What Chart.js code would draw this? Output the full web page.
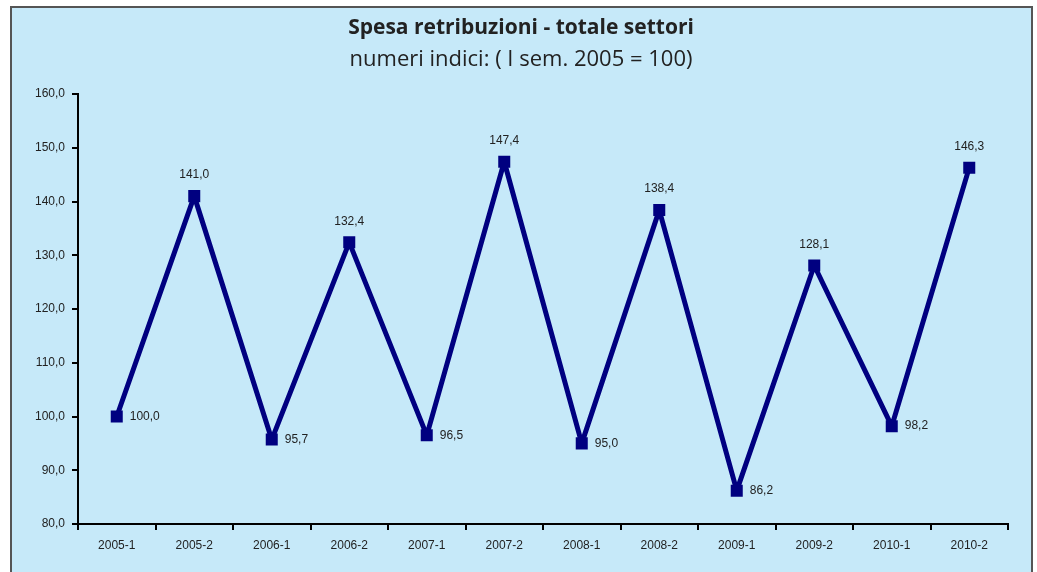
<!DOCTYPE html>
<html><head><meta charset="utf-8">
<script src="https://cdn.jsdelivr.net/npm/chart.js@4.4.0/dist/chart.umd.min.js"></script>
<style>
html,body{margin:0;padding:0;width:1037px;height:572px;overflow:hidden;background:#fff;}
#frame{position:absolute;left:10px;top:6px;width:1019px;height:580px;border:2px solid #555;background:#C6E9F9;}
#c{position:absolute;left:0;top:0;}
</style></head><body>
<div id="frame"></div>
<canvas id="c" width="1037" height="572"></canvas>
<script>
const categories = ['2005-1','2005-2','2006-1','2006-2','2007-1','2007-2','2008-1','2008-2','2009-1','2009-2','2010-1','2010-2'];
const values = [100.0,141.0,95.7,132.4,96.5,147.4,95.0,138.4,86.2,128.1,98.2,146.3];
const labelPlacement = ['right','top','right','top','right','top','right','top','right','top','right','top'];
const titleText = 'Spesa retribuzioni - totale settori';
const subtitleText = 'numeri indici: ( I sem. 2005 = 100)';
const yMin = 80, yMax = 160, yStep = 10;

const fmt = v => v.toFixed(1).replace('.', ',');

const titlePlugin = {
  id: 'titles',
  afterDraw(chart) {
    const ctx = chart.ctx;
    ctx.save();
    ctx.fillStyle = '#222';
    ctx.textAlign = 'center';
    ctx.textBaseline = 'middle';
    ctx.font = 'bold 21px "Open Sans"';
    ctx.fillText(titleText, 521, 28);
    ctx.font = '22px "Open Sans"';
    ctx.fillText(subtitleText, 521, 60);
    ctx.restore();
  }
};

const labelPlugin = {
  id: 'valueLabels',
  afterDatasetsDraw(chart) {
    const ctx = chart.ctx;
    const meta = chart.getDatasetMeta(0);
    ctx.save();
    ctx.fillStyle = '#222';
    ctx.font = '12px "Liberation Sans", Arial';
    meta.data.forEach((pt, i) => {
      const txt = fmt(values[i]);
      if (labelPlacement[i] === 'top') {
        ctx.textAlign = 'center';
        ctx.textBaseline = 'middle';
        ctx.fillText(txt, pt.x, pt.y - 21);
      } else {
        ctx.textAlign = 'left';
        ctx.textBaseline = 'middle';
        ctx.fillText(txt, pt.x + 13, pt.y);
      }
    });
    ctx.restore();
  }
};

new Chart(document.getElementById('c'), {
  type: 'line',
  data: {
    labels: categories,
    datasets: [{
      data: values,
      borderColor: '#000080',
      backgroundColor: '#000080',
      borderWidth: 5,
      borderJoinStyle: 'bevel',
      pointStyle: 'rect',
      pointRadius: 8.5,
      pointHoverRadius: 8.5,
      pointBorderWidth: 0,
      tension: 0,
      fill: false
    }]
  },
  options: {
    responsive: false,
    animation: false,
    devicePixelRatio: 1,
    layout: { padding: { top: 94, right: 29, left: 0, bottom: 0 } },
    plugins: { legend: { display: false }, tooltip: { enabled: false }, title: { display: false } },
    scales: {
      x: {
        offset: true,
        grid: { offset: true, drawOnChartArea: false, drawTicks: true, tickLength: 6, color: '#000', lineWidth: 2 },
        border: { display: true, color: '#000', width: 2 },
        ticks: { color: '#222', font: { family: '"Liberation Sans", Arial', size: 12 }, padding: 8, maxRotation: 0, autoSkip: false },
        afterFit(s) { s.height = 48; }
      },
      y: {
        min: yMin, max: yMax,
        grid: { drawOnChartArea: false, drawTicks: true, tickLength: 6, color: '#000', lineWidth: 2 },
        border: { display: true, color: '#000', width: 2 },
        ticks: { stepSize: yStep, color: '#222', font: { family: '"Liberation Sans", Arial', size: 12 }, padding: 7, callback: v => fmt(v) },
        afterFit(s) { s.width = 78; }
      }
    }
  },
  plugins: [titlePlugin, labelPlugin]
});
</script>
</body></html>
